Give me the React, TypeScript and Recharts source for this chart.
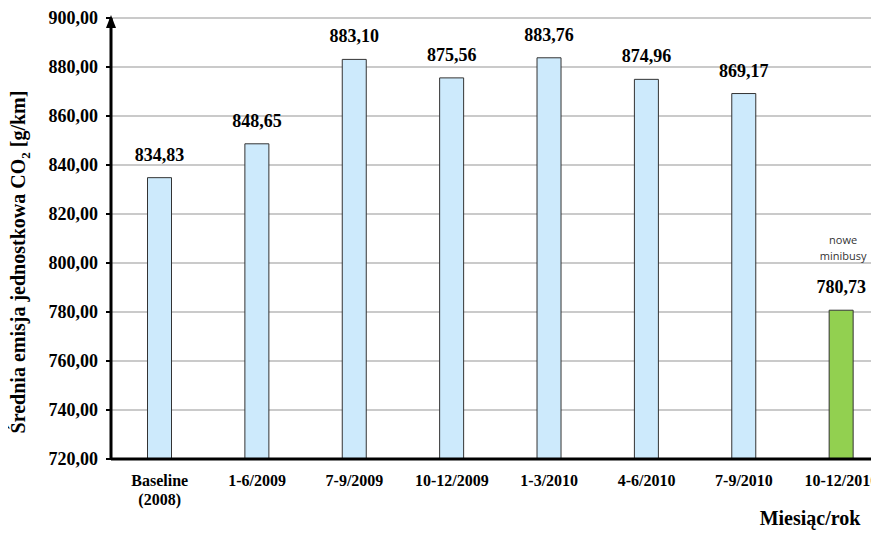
import React from "react";
import {
  BarChart,
  Bar,
  XAxis,
  YAxis,
  CartesianGrid,
  Cell,
  LabelList,
  Label,
} from "recharts";

const categories = [
  "Baseline (2008)",
  "1-6/2009",
  "7-9/2009",
  "10-12/2009",
  "1-3/2010",
  "4-6/2010",
  "7-9/2010",
  "10-12/2010",
];
const emissions = [834.83, 848.65, 883.1, 875.56, 883.76, 874.96, 869.17, 780.73];
const notes = ["", "", "", "", "", "", "", "nowe minibusy"];
const yTicks = [720, 740, 760, 780, 800, 820, 840, 860, 880, 900];

const data = categories.map((c, i) => ({
  name: c,
  value: emissions[i],
  note: notes[i],
  isNew: notes[i] !== "",
}));

const SERIF = "'Liberation Serif', 'Times New Roman', serif";
const BLUE = "#cdeafc";
const GREEN = "#92d050";

const fmt = (v: number) => v.toFixed(2).replace(".", ",");

function XTick(props: any) {
  const { x, y, payload } = props;
  const val: string = payload.value;
  const lines = val.startsWith("Baseline") ? val.split(" ") : [val];
  return (
    <g>
      {lines.map((l, i) => (
        <text
          key={i}
          x={x}
          y={y + 25 + i * 19}
          textAnchor="middle"
          fontFamily={SERIF}
          fontWeight="bold"
          fontSize={16}
          fill="#000"
        >
          {l}
        </text>
      ))}
    </g>
  );
}

function ValueLabel(props: any) {
  const { x, y, width, value, index } = props;
  const note = notes[index];
  const cx = x + width / 2;
  return (
    <g>
      <text
        x={cx}
        y={y - 17}
        textAnchor="middle"
        fontFamily={SERIF}
        fontWeight="bold"
        fontSize={18}
        fill="#000"
      >
        {fmt(value)}
      </text>
      {note
        ? note.split(" ").map((w, i) => (
            <text
              key={i}
              x={cx + 2}
              y={y - 66 + i * 16}
              textAnchor="middle"
              fontFamily="'Open Sans', sans-serif"
              fontSize={11}
              fill="#333"
            >
              {w}
            </text>
          ))
        : null}
    </g>
  );
}

function YTitle() {
  return (
    <text
      transform="translate(17,254) rotate(-90)"
      textAnchor="middle"
      fontFamily={SERIF}
      fontWeight="bold"
      fontSize={20}
      fill="#000"
    >
      Średnia emisja jednostkowa CO
      <tspan fontSize={13} dy={5}>
        2
      </tspan>
      <tspan dy={-5}> [g/km]</tspan>
    </text>
  );
}

export default function App() {
  return (
    <div style={{ position: "relative", width: 871, height: 525, overflow: "hidden" }}>
      <BarChart
        width={882}
        height={525}
        data={data}
        margin={{ top: 10, right: 0, bottom: 0, left: 0 }}
        barCategoryGap="37.5%"
      >
        <CartesianGrid vertical={false} stroke="#b8b8b8" strokeWidth={1.5} />
        <XAxis
          dataKey="name"
          height={74}
          tick={<XTick />}
          tickLine={false}
          tickSize={0}
          axisLine={{ stroke: "#000", strokeWidth: 3 }}
          interval={0}
        >
          <Label
            content={() => (
              <text
                x={802}
                y={517}
                textAnchor="middle"
                fontFamily={SERIF}
                fontWeight="bold"
                fontSize={20}
                fill="#000"
              >
                Miesiąc/rok
              </text>
            )}
          />
        </XAxis>
        <YAxis
          width={103}
          domain={[720, 900]}
          ticks={yTicks}
          interval={0}
          tickFormatter={fmt}
          tick={{ fontFamily: SERIF, fontWeight: "bold", fontSize: 18, fill: "#000" }}
          tickLine={{ stroke: "#000", strokeWidth: 2 }}
          tickSize={5}
          tickMargin={8}
          axisLine={{ stroke: "#000", strokeWidth: 3 }}
          allowDataOverflow
        >
          <Label content={<YTitle />} />
        </YAxis>
        <Bar dataKey="value" stroke="#333" strokeWidth={1} isAnimationActive={false}>
          {data.map((d, i) => (
            <Cell key={i} fill={d.isNew ? GREEN : BLUE} />
          ))}
          <LabelList dataKey="value" content={<ValueLabel />} />
        </Bar>
      </BarChart>
      <svg width={20} height={20} style={{ position: "absolute", left: 93, top: 2 }}>
        <polygon points="10,5 5,18 15,18" fill="#000" />
      </svg>
    </div>
  );
}
